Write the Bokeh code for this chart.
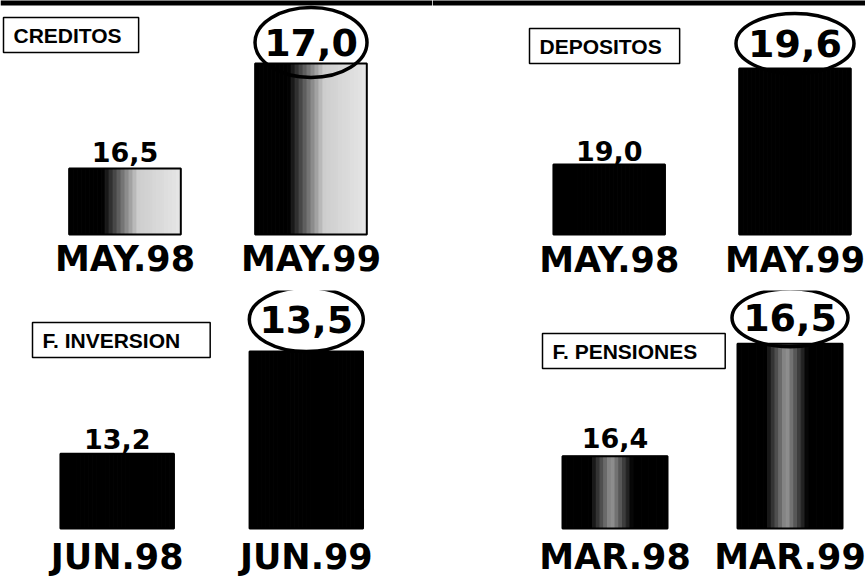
from bokeh.plotting import figure
from bokeh.models import Label, Range1d, BoxAnnotation
from bokeh.layouts import gridplot
from bokeh.core.properties import value
from bokeh.embed import file_html
from bokeh.resources import INLINE

# ---------------- data ----------------
titles = ["CREDITOS", "DEPOSITOS", "F. INVERSION", "F. PENSIONES"]

creditos_periods = ["MAY.98", "MAY.99"]
creditos_values = [16.5, 17.0]

depositos_periods = ["MAY.98", "MAY.99"]
depositos_values = [19.0, 19.6]

inversion_periods = ["JUN.98", "JUN.99"]
inversion_values = [13.2, 13.5]

pensiones_periods = ["MAR.98", "MAR.99"]
pensiones_values = [16.4, 16.5]

# ---------------- layout (truncated value axes, as in the original) ----------------
LEFT_W, RIGHT_W = 432, 433
TOP_H, BOT_H = 290, 287
BAR_W = 0.6
N_STRIPS = 28


def fmt(v):
    return f"{v:.1f}".replace(".", ",")


def hexgray(g):
    g = int(max(0, min(255, round(g))))
    return "#%02x%02x%02x" % (g, g, g)


def shade_cylinder(t):
    if t < 0.3:
        return hexgray(0)
    if t < 0.62:
        return hexgray((t - 0.3) / 0.32 * 205)
    return hexgray(205 + (t - 0.62) / 0.38 * 25)


def shade_center(t):
    d = abs(t - 0.47)
    return hexgray(max(0.0, 1 - d / 0.2) * 150)


def shade_solid(t):
    return "#000000"


panels = [
    dict(title=titles[0], periods=creditos_periods, values=creditos_values,
         w=LEFT_W, h=TOP_H, x0=-0.6694, x1=1.6532, y0=15.919, y1=17.300, base=16.1857,
         px=210.0, shade=shade_cylinder, val_dy=-16, lab_dy=25, ell_dy=21,
         ell_w=112, ell_h=70, top_band=True,
         tx=3, ty=TOP_H - 34.5, pad=dict(left=10, right=17, top=6, bottom=6)),
    dict(title=titles[1], periods=depositos_periods, values=depositos_values,
         w=RIGHT_W, h=TOP_H, x0=-0.951, x1=1.3795, y0=18.2125, y1=20.025, base=18.5625,
         px=160.0, shade=shade_solid, val_dy=-14, lab_dy=25, ell_dy=25,
         ell_w=118, ell_h=60, top_band=True,
         tx=97, ty=TOP_H - 45.5, pad=dict(left=10, right=18, top=6, bottom=6)),
    dict(title=titles[2], periods=inversion_periods, values=inversion_values,
         w=LEFT_W, h=BOT_H, x0=-0.6171, x1=1.6674, y0=12.8373, y1=13.679, base=12.981,
         px=341.0, shade=shade_solid, val_dy=-15, lab_dy=28, ell_dy=32,
         ell_w=114, ell_h=64, top_band=False,
         tx=32, ty=BOT_H - 49.5, pad=dict(left=10, right=30, top=6, bottom=6)),
    dict(title=titles[3], periods=pensiones_periods, values=pensiones_values,
         w=RIGHT_W, h=BOT_H, x0=-1.0429, x1=1.4314, y0=16.2921, y1=16.5474, base=16.3357,
         px=1124.0, shade=shade_center, val_dy=-18, lab_dy=29, ell_dy=26,
         ell_w=116, ell_h=58, top_band=False,
         tx=110, ty=BOT_H - 60.5, pad=dict(left=10, right=28, top=6, bottom=6)),
]


def make_panel(cfg):
    p = figure(width=cfg["w"], height=cfg["h"], output_backend="svg", toolbar_location=None,
               x_range=Range1d(cfg["x0"], cfg["x1"]), y_range=Range1d(cfg["y0"], cfg["y1"]),
               min_border=0, min_border_left=0, min_border_right=0,
               min_border_top=0, min_border_bottom=0)
    p.axis.visible = False
    p.grid.visible = False
    p.outline_line_color = None
    p.background_fill_color = "white"
    p.border_fill_color = "white"

    vals = cfg["values"]
    xs = list(range(len(vals)))
    base = cfg["base"]

    # black scan border along the top edge of the page
    if cfg["top_band"]:
        p.add_layout(BoxAnnotation(bottom=cfg["y1"] - 5.0 / cfg["px"], top=cfg["y1"] + 1,
                                   fill_color="black", fill_alpha=1.0, line_color=None))

    # bars, shaded as vertical strips
    sx, stop, scol = [], [], []
    for i, v in zip(xs, vals):
        for k in range(N_STRIPS):
            t = (k + 0.5) / N_STRIPS
            sx.append(i - BAR_W / 2 + t * BAR_W)
            stop.append(v)
            scol.append(cfg["shade"](t))
    p.vbar(x=sx, width=BAR_W / N_STRIPS, top=stop, bottom=base,
           fill_color=scol, line_color=scol, line_width=1)
    p.vbar(x=xs, width=BAR_W, top=vals, bottom=base,
           fill_color=None, line_color="black", line_width=2)

    # value of first period above its bar
    p.text(x=[xs[0]], y=[vals[0]], text=[fmt(vals[0])], y_offset=cfg["val_dy"],
           text_align="center", text_baseline="middle",
           text_font=value("DejaVu Sans"), text_font_style="bold",
           text_font_size="27px", text_color="black")

    # circled value of second period
    cy = vals[1] + cfg["ell_dy"] / cfg["px"]
    p.ellipse(x=[xs[1]], y=[cy], width=cfg["ell_w"], height=cfg["ell_h"],
              width_units="screen", height_units="screen",
              fill_color=None, line_color="black", line_width=3.5)
    p.text(x=[xs[1]], y=[cy], text=[fmt(vals[1])],
           text_align="center", text_baseline="middle",
           text_font=value("DejaVu Sans"), text_font_style="bold",
           text_font_size="38px", text_color="black")

    # period labels under the bars
    p.text(x=xs, y=[base] * len(xs), text=cfg["periods"], y_offset=cfg["lab_dy"],
           text_align="center", text_baseline="middle",
           text_font=value("DejaVu Sans"), text_font_style="bold",
           text_font_size="35px", text_color="black")

    # boxed panel title
    p.add_layout(Label(x=cfg["tx"], y=cfg["ty"], x_units="screen", y_units="screen",
                       text=cfg["title"], text_font="Liberation Sans",
                       text_font_style="bold", text_font_size="21px",
                       text_baseline="middle", text_align="left", text_color="black",
                       border_line_color="black", border_line_width=1.5,
                       background_fill_color="white", padding=cfg["pad"]))
    return p


figs = [make_panel(c) for c in panels]
grid = gridplot([[figs[0], figs[1]], [figs[2], figs[3]]], toolbar_location=None)

open("out.html", "w").write(file_html(grid, INLINE))
